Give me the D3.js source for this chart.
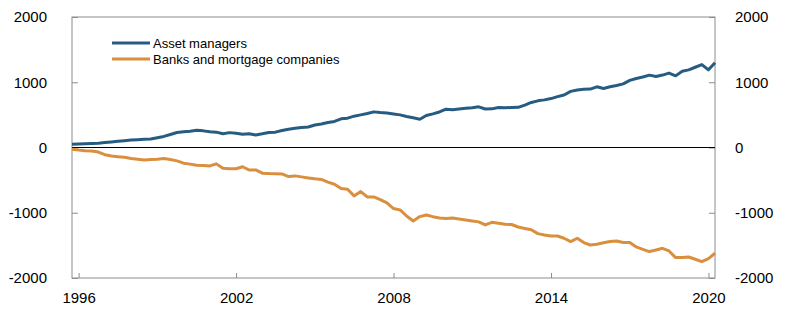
<!DOCTYPE html>
<html>
<head>
<meta charset="utf-8">
<script src="https://cdn.jsdelivr.net/npm/d3@7"></script>
<style>
  body { margin: 0; background: #fff; }
  text { font-family: "Liberation Sans", Arial, sans-serif; }
</style>
</head>
<body>
<div class="chart"></div>
<script>
// quarterly observations, 1995Q4 - 2020Q2
const quarters = d3.timeMonth.every(3).range(new Date(1995, 9, 1), new Date(2020, 4, 1));

const assetManagers = [
  50,
  55, 58, 62, 65,
  75, 85, 95, 105,
  115, 120, 125, 130,
  150, 170, 200, 230,
  240, 250, 265, 255,
  240, 235, 210, 228,
  220, 204, 212, 193,
  210, 230, 235, 260,
  281, 295, 305, 315,
  345, 360, 383, 400,
  440, 450, 480, 500,
  520, 546, 535, 530,
  515, 500, 475, 455,
  434, 490, 515, 545,
  588, 578, 590, 600,
  610, 623, 590, 592,
  613, 610, 612, 615,
  650, 690, 715, 730,
  750, 780, 805, 860,
  880, 894, 895, 930,
  905, 930, 950, 975,
  1028, 1058, 1080, 1109,
  1089, 1110, 1140, 1098,
  1170, 1190, 1230, 1270,
  1190, 1300
];

const banks = [
  -26,
  -40, -50, -55, -70,
  -110, -130, -140, -150,
  -170, -180, -190, -185,
  -180, -170, -185, -205,
  -240, -255, -271, -275,
  -282, -251, -318, -325,
  -325, -295, -345, -343,
  -394, -400, -402, -405,
  -445, -435, -450, -466,
  -480, -490, -530, -563,
  -629, -640, -742, -675,
  -758, -758, -800, -850,
  -936, -957, -1050, -1126,
  -1059, -1034, -1060, -1080,
  -1089, -1080, -1095, -1111,
  -1125, -1140, -1187, -1146,
  -1160, -1177, -1180, -1218,
  -1240, -1260, -1320, -1340,
  -1356, -1356, -1391, -1442,
  -1391, -1457, -1494, -1483,
  -1460, -1442, -1432, -1457,
  -1457, -1524, -1560, -1595,
  -1570, -1545, -1586, -1687,
  -1687, -1678, -1713, -1749,
  -1703, -1621
];

const seriesNames = ["Asset managers", "Banks and mortgage companies"];
const seriesColors = ["#265b82", "#d98f3e"];
const yTicks = [-2000, -1000, 0, 1000, 2000];
const xTickYears = [1996, 2002, 2008, 2014, 2020];

const W = 797, H = 323;
const margin = {top: 17, right: 82, bottom: 45, left: 72};
const width = W - margin.left - margin.right;
const height = H - margin.top - margin.bottom;

const svg = d3.select('.chart').append('svg')
  .attr('width', W)
  .attr('height', H)
  .append('g')
  .attr('transform', 'translate(' + margin.left + ',' + margin.top + ')');

const xScale = d3.scaleTime()
  .domain([quarters[0], quarters[quarters.length - 1]])
  .range([0, width]);

const yScale = d3.scaleLinear()
  .domain([-2000, 2000])
  .range([height, 0]);

const axisColor = "#8c8c8c";

// frame
svg.append('rect')
  .attr('x', 0).attr('y', 0)
  .attr('width', width).attr('height', height)
  .attr('fill', 'none')
  .attr('stroke', axisColor)
  .attr('stroke-width', 1);

const plain = d => String(d);

const yAxisLeft = d3.axisLeft(yScale).tickValues(yTicks).tickFormat(plain).tickSize(-6).tickPadding(25);
const yAxisRight = d3.axisRight(yScale).tickValues(yTicks).tickFormat(plain).tickSize(-6).tickPadding(20);
const xAxis = d3.axisBottom(xScale)
  .tickValues(xTickYears.map(y => new Date(y, 0, 1)))
  .tickFormat(d3.timeFormat('%Y'))
  .tickSize(-5).tickPadding(14);

function styleAxis(g) {
  g.select('.domain').remove();
  g.selectAll('line').attr('stroke', axisColor);
  g.selectAll('text').attr('font-size', '15px').attr('fill', '#000');
}

svg.append('g').attr('class', 'axis y-left').call(yAxisLeft).call(styleAxis);
svg.append('g').attr('class', 'axis y-right')
  .attr('transform', `translate(${width},0)`)
  .call(yAxisRight).call(styleAxis);
svg.append('g').attr('class', 'axis x-axis')
  .attr('transform', `translate(0,${height})`)
  .call(xAxis).call(styleAxis);

svg.select('.y-right').selectAll('text').attr('text-anchor', 'start');

// zero line
svg.append('line')
  .attr('x1', 0).attr('x2', width)
  .attr('y1', yScale(0)).attr('y2', yScale(0))
  .attr('stroke', '#000')
  .attr('stroke-width', 1);

const line = d3.line()
  .x((d, i) => xScale(quarters[i]))
  .y(d => yScale(d));

[assetManagers, banks].forEach((s, k) => {
  svg.append('path')
    .datum(s)
    .attr('fill', 'none')
    .attr('stroke', seriesColors[k])
    .attr('stroke-width', 3)
    .attr('stroke-linejoin', 'round')
    .attr('d', line);
});

// legend
const legend = svg.append('g').attr('transform', 'translate(40,26)');
seriesNames.forEach((name, k) => {
  const g = legend.append('g').attr('transform', `translate(0,${k * 16})`);
  g.append('line')
    .attr('x1', 0).attr('x2', 38)
    .attr('stroke', seriesColors[k])
    .attr('stroke-width', 3);
  g.append('text')
    .attr('x', 41).attr('y', 4.5)
    .attr('font-size', '13px')
    .text(name);
});
</script>
</body>
</html>
